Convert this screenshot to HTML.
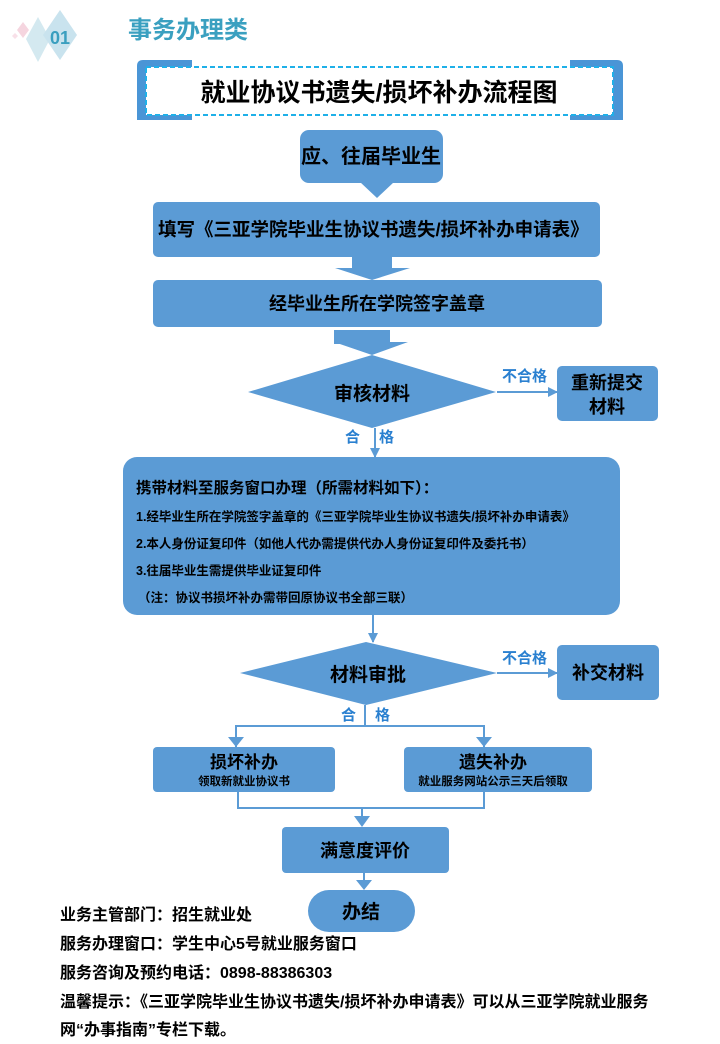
<!DOCTYPE html>
<html><head><meta charset="utf-8"><style>
html,body{margin:0;padding:0;background:#fff;}
svg text{font-family:"Liberation Sans","Noto Sans CJK SC",sans-serif;font-weight:bold;}
</style></head><body>
<svg width="720" height="1039" viewBox="0 0 720 1039" xmlns="http://www.w3.org/2000/svg">
<defs>
<marker id="ah" markerWidth="10" markerHeight="10" refX="9" refY="5" orient="auto" markerUnits="userSpaceOnUse"><path d="M0,0 L10,5 L0,10 Z" fill="#5b9bd5"/></marker>
</defs>
<!-- header decoration -->
<polygon points="38,17 50,39 38,62 26,39" fill="#d4e9f0"/>
<polygon points="60,10 77,35 60,60 43,35" fill="#c9e3ee"/>
<polygon points="23,22 29,30 23,38 17,30" fill="#f5d5df"/>
<polygon points="15,33 18,36 15,39 12,36" fill="#f8e0e8"/>
<text x="50" y="44" font-size="18" fill="#3a9fbf">01</text>
<text x="128" y="38" font-size="24" fill="#3aa0c0">事务办理类</text>
<!-- title -->
<path d="M137,120 V66 Q137,60 143,60 H192 V120 Z" fill="#4a95d6"/>
<path d="M623,120 V66 Q623,60 617,60 H570 V120 Z" fill="#4a95d6"/>
<rect x="146" y="67" width="467" height="48" fill="#fff" stroke="#1fb0e8" stroke-width="2" stroke-dasharray="5,3"/>
<text x="379" y="101" font-size="25" text-anchor="middle" fill="#000">就业协议书遗失/损坏补办流程图</text>
<!-- start -->
<rect x="300" y="130" width="143" height="53" rx="9" fill="#5b9bd5"/>
<polygon points="360,182 394,182 377,198" fill="#5b9bd5"/>
<text x="371" y="163" font-size="20" text-anchor="middle" fill="#000">应、往届毕业生</text>
<!-- box 2 -->
<rect x="153" y="202" width="447" height="55" rx="5" fill="#5b9bd5"/>
<text x="158" y="236" font-size="18.5" fill="#000">填写《三亚学院毕业生协议书遗失/损坏补办申请表》</text>
<rect x="352" y="257" width="40" height="12" fill="#5b9bd5"/>
<polygon points="335,268 410,268 372,280" fill="#5b9bd5"/>
<!-- box 3 -->
<rect x="153" y="280" width="449" height="47" rx="5" fill="#5b9bd5"/>
<text x="377" y="310" font-size="18" text-anchor="middle" fill="#000">经毕业生所在学院签字盖章</text>
<rect x="334" y="330" width="56" height="14" fill="#5b9bd5"/>
<polygon points="334,342 408,342 372,355" fill="#5b9bd5"/>
<!-- diamond 1 -->
<polygon points="248,392 372,355 496,392 372,428" fill="#5b9bd5"/>
<text x="372" y="400" font-size="19" text-anchor="middle" fill="#000">审核材料</text>
<line x1="497" y1="392" x2="557" y2="392" stroke="#5b9bd5" stroke-width="2" marker-end="url(#ah)"/>
<text x="502" y="381" font-size="15" fill="#2a80d0">不合格</text>
<rect x="557" y="366" width="101" height="55" rx="5" fill="#5b9bd5"/>
<text x="607" y="389" font-size="18" text-anchor="middle" fill="#000">重新提交</text>
<text x="607" y="413" font-size="18" text-anchor="middle" fill="#000">材料</text>
<text x="345" y="442" font-size="15" fill="#2a80d0">合</text>
<text x="379" y="442" font-size="15" fill="#2a80d0">格</text>
<line x1="375" y1="428" x2="375" y2="457" stroke="#5b9bd5" stroke-width="2" marker-end="url(#ah)"/>
<!-- big box -->
<rect x="123" y="457" width="497" height="158" rx="14" fill="#5b9bd5"/>
<text x="136" y="493" font-size="15.5" fill="#000">携带材料至服务窗口办理（所需材料如下）：</text>
<text x="136" y="521" font-size="12.5" fill="#000">1.经毕业生所在学院签字盖章的《三亚学院毕业生协议书遗失/损坏补办申请表》</text>
<text x="136" y="548" font-size="12.5" fill="#000">2.本人身份证复印件（如他人代办需提供代办人身份证复印件及委托书）</text>
<text x="136" y="575" font-size="12.5" fill="#000">3.往届毕业生需提供毕业证复印件</text>
<text x="138" y="602" font-size="12.5" fill="#000">（注：协议书损坏补办需带回原协议书全部三联）</text>
<line x1="373" y1="615" x2="373" y2="642" stroke="#5b9bd5" stroke-width="2" marker-end="url(#ah)"/>
<!-- diamond 2 -->
<polygon points="240,673 366,642 497,673 366,705" fill="#5b9bd5"/>
<text x="368" y="681" font-size="19" text-anchor="middle" fill="#000">材料审批</text>
<line x1="497" y1="673" x2="557" y2="673" stroke="#5b9bd5" stroke-width="2" marker-end="url(#ah)"/>
<text x="502" y="663" font-size="15" fill="#2a80d0">不合格</text>
<rect x="557" y="645" width="102" height="55" rx="5" fill="#5b9bd5"/>
<text x="608" y="679" font-size="18" text-anchor="middle" fill="#000">补交材料</text>
<text x="341" y="720" font-size="15" fill="#2a80d0">合</text>
<text x="375" y="720" font-size="15" fill="#2a80d0">格</text>
<line x1="365" y1="705" x2="365" y2="727" stroke="#5b9bd5" stroke-width="2"/>
<polyline points="236,747 236,726 484,726 484,747" fill="none" stroke="#5b9bd5" stroke-width="2"/>
<polygon points="228,737 244,737 236,747" fill="#5b9bd5"/>
<polygon points="476,737 492,737 484,747" fill="#5b9bd5"/>
<!-- two boxes -->
<rect x="153" y="747" width="182" height="45" rx="4" fill="#5b9bd5"/>
<text x="244" y="768" font-size="17" text-anchor="middle" fill="#000">损坏补办</text>
<text x="244" y="785" font-size="11.5" text-anchor="middle" fill="#000">领取新就业协议书</text>
<rect x="404" y="747" width="188" height="45" rx="4" fill="#5b9bd5"/>
<text x="493" y="768" font-size="17" text-anchor="middle" fill="#000">遗失补办</text>
<text x="493" y="785" font-size="11.5" text-anchor="middle" fill="#000">就业服务网站公示三天后领取</text>
<polyline points="238,792 238,808 484,808 484,792" fill="none" stroke="#5b9bd5" stroke-width="2"/>
<line x1="362" y1="808" x2="362" y2="818" stroke="#5b9bd5" stroke-width="2"/>
<polygon points="354,816 370,816 362,827" fill="#5b9bd5"/>
<!-- satisfaction -->
<rect x="282" y="827" width="167" height="46" rx="4" fill="#5b9bd5"/>
<text x="365" y="857" font-size="18" text-anchor="middle" fill="#000">满意度评价</text>
<line x1="364" y1="873" x2="364" y2="882" stroke="#5b9bd5" stroke-width="2"/>
<polygon points="356,880 372,880 364,890" fill="#5b9bd5"/>
<rect x="308" y="890" width="107" height="42" rx="21" fill="#5b9bd5"/>
<text x="361" y="918" font-size="19" text-anchor="middle" fill="#000">办结</text>
<!-- footer -->
<text x="60" y="920" font-size="16" fill="#000">业务主管部门：招生就业处</text>
<text x="60" y="949" font-size="16" fill="#000">服务办理窗口：学生中心5号就业服务窗口</text>
<text x="60" y="978" font-size="16" fill="#000">服务咨询及预约电话：0898-88386303</text>
<text x="60" y="1007" font-size="16" fill="#000">温馨提示：《三亚学院毕业生协议书遗失/损坏补办申请表》可以从三亚学院就业服务</text>
<text x="60" y="1035" font-size="16" fill="#000">网“办事指南”专栏下载。</text>
</svg>
</body></html>
